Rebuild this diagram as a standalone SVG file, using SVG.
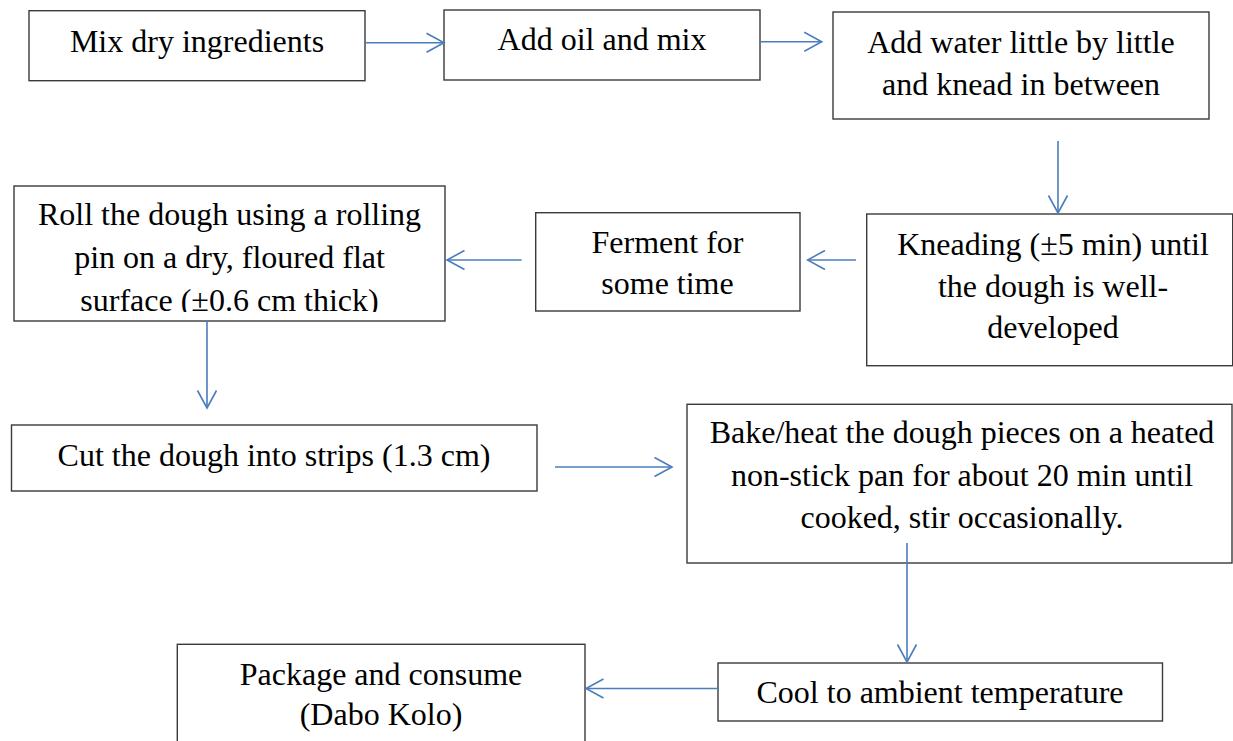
<svg xmlns="http://www.w3.org/2000/svg" width="1233" height="741" viewBox="0 0 1233 741">
  <style>
    .box { fill: #ffffff; stroke: #3a3a3a; stroke-width: 1.4; }
    .lbl { font-family: "Liberation Serif", "Times New Roman", serif; font-size: 32px; fill: #000000; text-anchor: middle; }
    .conn { stroke: #4a7ebb; stroke-width: 1.6; fill: none; marker-end: url(#arr); }
  </style>
  <defs>
    <marker id="arr" viewBox="0 0 20 22" refX="18" refY="11" markerWidth="20" markerHeight="22" markerUnits="userSpaceOnUse" orient="auto">
      <path d="M0.5,1.5 L18,11 L0.5,20.5" fill="none" stroke="#4a7ebb" stroke-width="1.6"/>
    </marker>
    <clipPath id="rollClip">
      <rect x="14" y="186" width="431" height="126"/>
    </clipPath>
  </defs>
  <rect x="0" y="0" width="1233" height="741" fill="#ffffff"/>

  <g id="n1">
    <rect class="box" x="29" y="10.7" width="336" height="70"/>
    <text class="lbl" x="197" y="51.7">Mix dry ingredients</text>
  </g>
  <g id="n2">
    <rect class="box" x="444" y="10" width="316" height="70"/>
    <text class="lbl" x="602" y="50">Add oil and mix</text>
  </g>
  <g id="n3">
    <rect class="box" x="833" y="12" width="376" height="107"/>
    <text class="lbl" x="1021" y="52.7">Add water little by little</text>
    <text class="lbl" x="1021" y="95">and knead in between</text>
  </g>
  <g id="n4">
    <rect class="box" x="866.7" y="214" width="366" height="151.7"/>
    <text class="lbl" x="1053" y="255">Kneading (±5 min) until</text>
    <text class="lbl" x="1053" y="296.7">the dough is well-</text>
    <text class="lbl" x="1053" y="338">developed</text>
  </g>
  <g id="n5">
    <rect class="box" x="535.7" y="212.7" width="264.3" height="98.3"/>
    <text class="lbl" x="667.5" y="252.7">Ferment for</text>
    <text class="lbl" x="667.5" y="294">some time</text>
  </g>
  <g id="n6">
    <rect class="box" x="14" y="186" width="431" height="135"/>
    <g clip-path="url(#rollClip)">
      <text class="lbl" x="229.5" y="225">Roll the dough using a rolling</text>
      <text class="lbl" x="229.5" y="268.3">pin on a dry, floured flat</text>
      <text class="lbl" x="229.5" y="310.5">surface (±0.6 cm thick)</text>
    </g>
  </g>
  <g id="n7">
    <rect class="box" x="11.5" y="425" width="525.5" height="66"/>
    <text class="lbl" x="274" y="465.5">Cut the dough into strips (1.3 cm)</text>
  </g>
  <g id="n8">
    <rect class="box" x="687" y="404.3" width="545" height="158.7"/>
    <text class="lbl" x="962" y="443.3">Bake/heat the dough pieces on a heated</text>
    <text class="lbl" x="962" y="486">non-stick pan for about 20 min until</text>
    <text class="lbl" x="962" y="528.3">cooked, stir occasionally.</text>
  </g>
  <g id="n9">
    <rect class="box" x="718" y="663" width="444.5" height="58"/>
    <text class="lbl" x="940" y="703">Cool to ambient temperature</text>
  </g>
  <g id="n10">
    <rect class="box" x="177.3" y="644.3" width="407.7" height="120"/>
    <text class="lbl" x="381" y="685">Package and consume</text>
    <text class="lbl" x="381" y="725">(Dabo Kolo)</text>
  </g>

  <g id="connectors">
    <line class="conn" x1="365.7" y1="42.7" x2="444" y2="42.7"/>
    <line class="conn" x1="760" y1="41.7" x2="821.7" y2="41.7"/>
    <line class="conn" x1="1058" y1="141" x2="1058" y2="213"/>
    <line class="conn" x1="856" y1="260" x2="807.5" y2="260"/>
    <line class="conn" x1="521.7" y1="260" x2="447" y2="260"/>
    <line class="conn" x1="207" y1="321" x2="207" y2="408"/>
    <line class="conn" x1="555" y1="467" x2="672" y2="467"/>
    <line class="conn" x1="907" y1="543" x2="907" y2="662"/>
    <line class="conn" x1="718" y1="688.5" x2="586" y2="688.5"/>
  </g>
</svg>
